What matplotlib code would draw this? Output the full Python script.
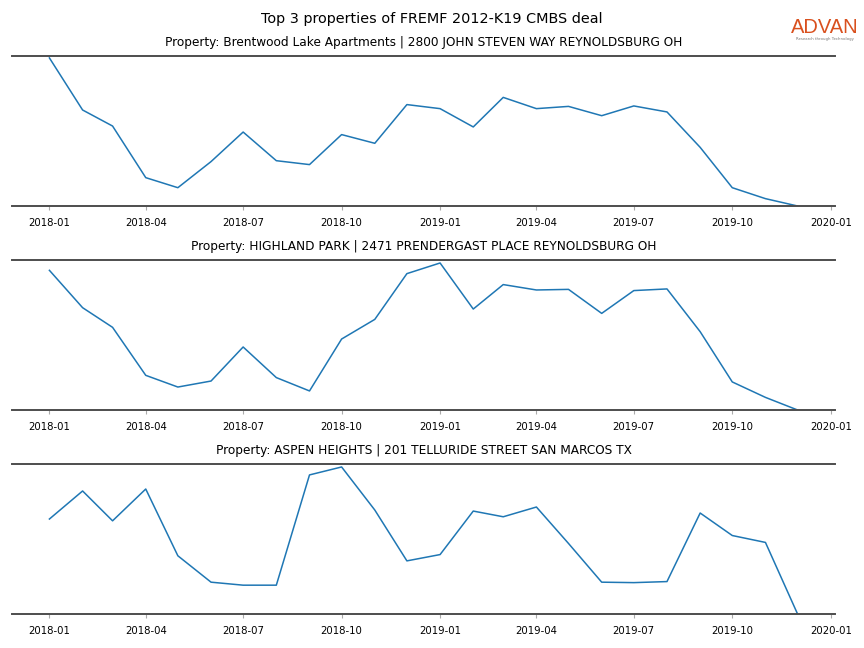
import matplotlib
matplotlib.use("Agg")
import matplotlib.pyplot as plt
import matplotlib.dates as mdates
import pandas as pd

# monthly values (relative scale)
months = pd.date_range("2018-01-01", "2019-12-01", freq="MS")

titles = [
    "Property: Brentwood Lake Apartments | 2800 JOHN STEVEN WAY REYNOLDSBURG OH",
    "Property: HIGHLAND PARK | 2471 PRENDERGAST PLACE REYNOLDSBURG OH",
    "Property: ASPEN HEIGHTS | 201 TELLURIDE STREET SAN MARCOS TX",
]

brentwood = [98.7, 64.0, 53.3, 18.9, 12.2, 29.6, 49.3, 30.2, 27.6, 47.6, 41.8, 67.6,
             64.9, 52.7, 72.4, 64.9, 66.4, 60.2, 66.7, 62.7, 39.1, 12.2, 4.9, 0.0]
highland = [93.1, 68.2, 55.1, 23.1, 15.3, 19.3, 42.0, 21.6, 12.7, 47.3, 60.4, 90.9,
            98.0, 67.3, 83.6, 80.0, 80.4, 64.4, 79.6, 80.7, 52.2, 18.7, 8.4, 0.0]
aspen = [63.3, 82.0, 62.1, 83.3, 38.8, 21.2, 19.2, 19.2, 92.7, 98.0, 69.3, 35.4,
         39.6, 68.6, 64.8, 71.3, 47.0, 21.2, 20.9, 21.6, 67.3, 52.3, 47.7, 0.0]

series = [brentwood, highland, aspen]

fig = plt.figure(figsize=(8.64, 6.48), dpi=100)
fig.suptitle("Top 3 properties of FREMF 2012-K19 CMBS deal", fontsize=10.4, y=0.982)

tops = [0.9136, 0.5988, 0.284]
h = 0.2315
for top, title, vals in zip(tops, titles, series):
    ax = fig.add_axes([0.0139, top - h, 0.9525, h])
    ax.plot(months, vals, color="#1f77b4", lw=1.1)
    ax.set_ylim(0, 100)
    ax.set_title(title, fontsize=8.7, pad=7.5)
    ax.xaxis.set_major_locator(mdates.MonthLocator(bymonth=[1, 4, 7, 10]))
    ax.xaxis.set_major_formatter(mdates.DateFormatter("%Y-%m"))
    ax.tick_params(axis="x", labelsize=7.3, length=3, color="#aaaaaa", pad=6)
    ax.set_yticks([])
    for s in ["left", "right"]:
        ax.spines[s].set_visible(False)
    for s in ["top", "bottom"]:
        ax.spines[s].set_color("#4d4d4d")
        ax.spines[s].set_linewidth(1.4)

# logo
fig.text(0.955, 0.957, "ADVAN", color="#d9501e", fontsize=14.5, ha="center",
         va="center", family="Liberation Sans")
fig.text(0.955, 0.940, "Research through Technology", color="#777777",
         fontsize=2.8, ha="center", va="center")

fig.savefig("out.png", dpi=100)
